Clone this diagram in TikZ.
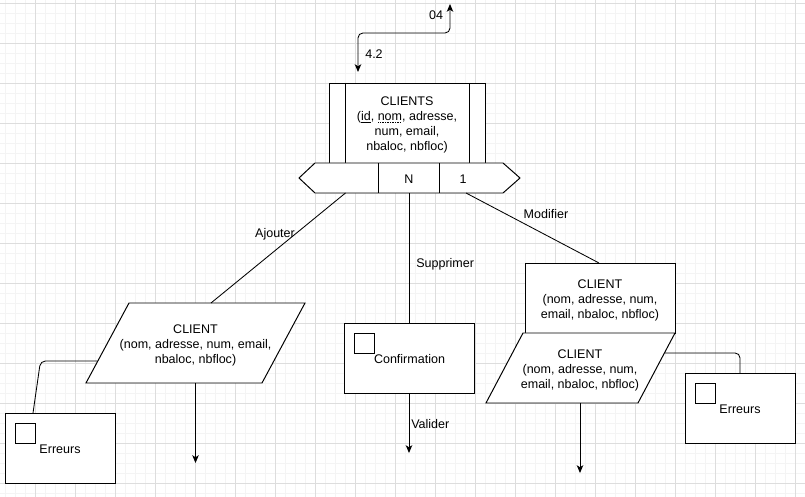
\documentclass[tikz,border=0pt]{standalone}
\usepackage{fontspec}
\setmainfont{Liberation Sans}
\usetikzlibrary{arrows.meta}
\definecolor{gridmajor}{RGB}{221,221,221}
\definecolor{gridminor}{RGB}{244,244,244}
\newcommand\solidul[1]{\setbox0=\hbox{#1}\rlap{\raisebox{-1.7pt}{\rule{\wd0}{0.45pt}}}\box0}
\newcommand\dotul[1]{\setbox0=\hbox{#1}\rlap{\raisebox{-1.7pt}{\hbox to \wd0{\leaders\hbox to 1.2pt{\hss\rule{0.6pt}{0.45pt}\hss}\hfill}}}\box0}

\begin{document}
\begin{tikzpicture}[x=0.025cm,y=-0.025cm,
	shapeline/.style={draw=black,line width=0.7pt,fill=white},
	link/.style={draw=black,line width=0.6pt},
	flowarrow/.style={-{Stealth[length=5.5pt,width=4.6pt,inset=1.4pt]}},
	txt/.style={font=\fontsize{8.9}{10.7}\selectfont,align=center,inner sep=0pt}]
	\useasboundingbox (0,0) rectangle (805,497);
	\fill[white] (0,0) rectangle (805,497);
	% grille de fond
	\foreach \gx in {5,15,...,805} \draw[gridminor,line width=0.5pt] (\gx,0) -- (\gx,497);
	\foreach \gy in {3,13,...,497} \draw[gridminor,line width=0.5pt] (0,\gy) -- (805,\gy);
	\foreach \gx in {35,75,...,805} \draw[gridmajor,line width=0.6pt] (\gx,0) -- (\gx,497);
	\foreach \gy in {3,43,...,497} \draw[gridmajor,line width=0.6pt] (0,\gy) -- (805,\gy);

	% entite CLIENTS
	\coordinate (C1) at (329,83);
	\coordinate (C2) at (485,163);
	\draw[shapeline] (C1) rectangle (C2);
	\draw[shapeline] (345,83) -- (345,163);
	\draw[shapeline] (469,83) -- (469,163);
	\node[txt] (clients) at (407,125) {CLIENTS\\(\solidul{id}, \dotul{nom}, adresse,\\num, email,\\nbaloc, nbfloc)};

	% barre des cardinalites
	\coordinate (H1) at (299,178);
	\coordinate (H2) at (315,163);
	\coordinate (H3) at (503,163);
	\coordinate (H4) at (520,178);
	\coordinate (H5) at (503,193);
	\coordinate (H6) at (315,193);
	\draw[shapeline] (H1) -- (H2) -- (H3) -- (H4) -- (H5) -- (H6) -- cycle;
	\draw[shapeline] (378,163) -- (378,193);
	\draw[shapeline] (439,163) -- (439,193);
	\node[txt] (cardN) at (409,179) {N};
	\node[txt] (card1) at (463,179) {1};

	% lien entrant / sortant
	\coordinate (in42) at (358,72);
	\coordinate (out04) at (450,4);
	\draw[link,{Stealth[length=5.5pt,width=4.6pt,inset=1.4pt]}-{Stealth[length=5.5pt,width=4.6pt,inset=1.4pt]},rounded corners=3.5pt]
		(in42) -- (358,33) -- (450,33) -- (out04);
	\node[txt] (lab04) at (436,15) {04};
	\node[txt] (lab42) at (374,54) {4.2};

	% Ajouter
	\coordinate (P1) at (129,303);
	\coordinate (P2) at (305,303);
	\coordinate (P3) at (262,383);
	\coordinate (P4) at (86,383);
	\draw[shapeline] (P1) -- (P2) -- (P3) -- (P4) -- cycle;
	\node[txt] (clientA) at (195.5,345) {CLIENT\\(nom, adresse, num, email,\\nbaloc, nbfloc)};
	\coordinate (ajFrom) at (345.5,193);
	\coordinate (ajTo) at (211,303);
	\draw[link] (ajFrom) -- (ajTo);
	\node[txt] (ajouter) at (275,234) {Ajouter};
	\coordinate (outA) at (195.5,383);
	\coordinate (endA) at (195.5,463);
	\draw[link,flowarrow] (outA) -- (endA);

	\draw[shapeline] (5,413) rectangle (115,483);
	\draw[shapeline] (15,423) rectangle (35,443);
	\node[txt] (errA) at (60,449) {Erreurs};
	\coordinate (errAtop) at (33,413);
	\coordinate (edgeA) at (97.5,361);
	\draw[link,rounded corners=3.5pt] (errAtop) -- (40.5,361) -- (edgeA);

	% Supprimer
	\coordinate (supFrom) at (409,193);
	\coordinate (supTo) at (409,323);
	\draw[link] (supFrom) -- (supTo);
	\node[txt,anchor=west] (supprimer) at (416,264) {Supprimer};
	\draw[shapeline] (344,323) rectangle (474,393);
	\draw[shapeline] (354,333) rectangle (374,353);
	\node[txt] (confirm) at (409.5,359) {Confirmation};
	\coordinate (confBot) at (409,393);
	\coordinate (endS) at (409,453);
	\draw[link,flowarrow] (confBot) -- (endS);
	\node[txt,anchor=west] (valider) at (411,424) {Valider};

	% Modifier
	\coordinate (modFrom) at (466,193);
	\coordinate (modTo) at (599,263);
	\draw[link] (modFrom) -- (modTo);
	\node[txt] (modifier) at (546,214) {Modifier};
	\draw[shapeline] (525,263) rectangle (675,333);
	\node[txt] (clientM) at (600,300) {CLIENT\\(nom, adresse, num,\\email, nbaloc, nbfloc)};
	\coordinate (Q1) at (523,333);
	\coordinate (Q2) at (675,333);
	\coordinate (Q3) at (638,403);
	\coordinate (Q4) at (486,403);
	\draw[shapeline] (Q1) -- (Q2) -- (Q3) -- (Q4) -- cycle;
	\node[txt] (clientN) at (580,370) {CLIENT\\(nom, adresse, num,\\email, nbaloc, nbfloc)};
	\coordinate (outM) at (580,403);
	\coordinate (endM) at (580,473);
	\draw[link,flowarrow] (outM) -- (endM);

	\draw[shapeline] (685,373) rectangle (795,443);
	\draw[shapeline] (695,383) rectangle (715,403);
	\node[txt] (errM) at (740,409) {Erreurs};
	\coordinate (edgeM) at (664.5,353);
	\coordinate (errMtop) at (740,373);
	\draw[link,rounded corners=3.5pt] (edgeM) -- (740,353) -- (errMtop);
\end{tikzpicture}
\end{document}
